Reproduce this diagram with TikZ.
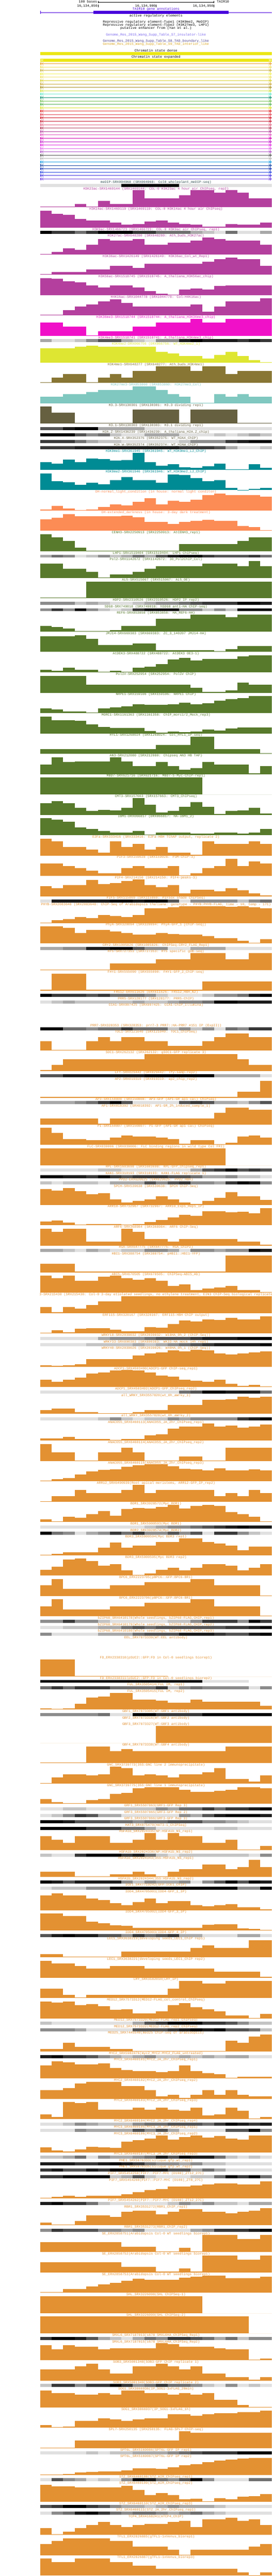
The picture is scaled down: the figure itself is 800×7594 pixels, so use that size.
\documentclass[tikz,border=0pt]{standalone}
\usepackage{fontspec}
\newfontfamily\ucsc{Liberation Mono}
\definecolor{cmag}{RGB}{180,63,158}
\definecolor{cmagb}{RGB}{240,16,200}
\definecolor{ckfm}{RGB}{210,40,160}
\definecolor{cyel}{RGB}{222,230,50}
\definecolor{colv}{RGB}{136,118,52}
\definecolor{cteal}{RGB}{128,200,192}
\definecolor{cdol}{RGB}{102,96,64}
\definecolor{ccyan}{RGB}{0,139,148}
\definecolor{csal}{RGB}{252,140,85}
\definecolor{cgrn}{RGB}{88,122,44}
\definecolor{corg}{RGB}{227,145,50}
\definecolor{cmed}{RGB}{47,79,79}
\definecolor{cgene}{RGB}{72,0,220}
\definecolor{cstate}{RGB}{235,230,20}
\definecolor{cs7}{RGB}{123,104,238}
\definecolor{cs8}{RGB}{72,61,139}
\definecolor{cs9}{RGB}{218,165,32}
\definecolor{g0}{RGB}{255,255,255}
\definecolor{g1}{RGB}{224,224,224}
\definecolor{g2}{RGB}{196,196,196}
\definecolor{g3}{RGB}{168,168,168}
\definecolor{g4}{RGB}{140,140,140}
\definecolor{g5}{RGB}{112,112,112}
\definecolor{g6}{RGB}{84,84,84}
\definecolor{g7}{RGB}{56,56,56}
\definecolor{g8}{RGB}{28,28,28}
\definecolor{g9}{RGB}{0,0,0}
\newcounter{trk}
\def\cy{537}
\newcommand\nexty[1]{\pgfmathtruncatemacro\tmpy{\cy+#1}\xdef\cy{\tmpy}}
\newcommand\ttl[2]{\stepcounter{trk}\edef\tnm{trk\arabic{trk}}\node[ttlsty,text=#1] (\tnm) at (459,\cy+3) {#2};}
\newcommand\wig[3]{%
  \ttl{#1}{#2}%
  \foreach \hv [count=\i from 0] in {#3} {%
    \pgfmathtruncatemacro\xa{118+\i*34.1+0.5}%
    \pgfmathtruncatemacro\xb{118+(\i+1)*34.1+0.5}%
    \pgfmathsetmacro\hh{min(\hv,50)}%
    \fill[#1] (\xa,\cy+55-\hh) rectangle (\xb,\cy+55);%
  }%
  \nexty{60}}
\newcommand\ewig[2]{\ttl{#1}{#2}\nexty{60}}
\newcommand\dns[3]{%
  \ttl{#1}{#2}%
  \foreach \lv [count=\i from 0] in {#3} {%
    \pgfmathtruncatemacro\xa{118+\i*34.1+0.5}%
    \pgfmathtruncatemacro\xb{118+(\i+1)*34.1+0.5}%
    \fill[g\lv] (\xa,\cy+5) rectangle (\xb,\cy+14);%
  }%
  \nexty{19}}
\newcommand\edns[2]{\ttl{#1}{#2}\nexty{19}}
\newcommand\expline[2]{%
  \draw[#2, line width=1pt] (118,#1) -- (800,#1);
  \draw[#2, line width=0.9pt] (118.5,#1-4) -- (118.5,#1+4);
  \draw[#2, line width=0.8pt] (123,#1-4) -- (119.5,#1) -- (123,#1+4);
  \draw[#2, line width=0.8pt] (127.5,#1-4) -- (124,#1) -- (127.5,#1+4);
  \draw[#2, line width=0.8pt] (790.5,#1-4) -- (794,#1) -- (790.5,#1+4);
  \draw[#2, line width=0.8pt] (795,#1-4) -- (798.5,#1) -- (795,#1+4) -- cycle;
}
\begin{document}
\begin{tikzpicture}[x=1pt,y=-1pt,
  ttlsty/.style={font=\ucsc\fontsize{10}{10}\selectfont, inner sep=0pt, anchor=base},
  hdr/.style={font=\ucsc\fontsize{10}{10}\selectfont, inner sep=0pt, text=black}]
\useasboundingbox (0,0) rectangle (800,7594);
\fill[white] (0,0) rectangle (800,7594);
% ---- scale and position ----
\node[hdr, anchor=base east] (scl) at (286,9) {100 bases};
\draw[line width=1pt] (289,6) -- (630,6);
\draw[line width=1pt] (289.5,2.5) -- (289.5,9.5);
\draw[line width=1pt] (629.5,2.5) -- (629.5,9.5);
\node[hdr, anchor=base west] (asm) at (638,9) {TAIR10};
\node[hdr, anchor=base east] (p1) at (287,21) {16,134,850};
\node[hdr, anchor=base east] (p2) at (458,21) {16,134,900};
\node[hdr, anchor=base east] (p3) at (628,21) {16,134,950};
\draw[line width=1pt] (289.5,13) -- (289.5,22);
\draw[line width=1pt] (459.5,13) -- (459.5,22);
\draw[line width=1pt] (629.5,13) -- (629.5,22);
\begin{scope}
\clip (118,0) rectangle (800,7594);
% ---- gene ----
\node[ttlsty, text=cgene] (gtitle) at (459,30) {TAIR10 gene annotations};
\draw[cgene, line width=1pt] (118,36.5) -- (800,36.5);
\draw[cgene, line width=1pt] (118.5,32) -- (118.5,41);
\fill[cgene] (275,32) rectangle (673,41);
\node[ttlsty] (are) at (459,49) {active regulatory elements};
\node[ttlsty] (rr1) at (459,68) {Repressive regulatory element-Type1 (H3K9me2, MeDIP)};
\node[ttlsty] (rr2) at (459,77) {Repressive regulatory element-Type2 (H3K27me3, LHP1)};
\node[ttlsty] (pen) at (459,86) {putative enhancer from (Yan et al.)};
\node[ttlsty, text=cs7] (s7) at (459,105) {Genome\_Res\_2015\_Wang\_Supp\_Table\_S7\_insulator-like};
\node[ttlsty, text=cs8] (s8) at (459,124) {Genome\_Res\_2015\_Wang\_Supp\_Table\_S8\_TAD\_boundary\_like};
\node[ttlsty, text=cs9] (s9) at (459,133) {Genome\_Res\_2015\_Wang\_Supp\_Table\_S9\_TAD\_interior\_like};
\node[ttlsty] (csd) at (459,152) {Chromatin state dense};
\fill[cstate] (118,154) rectangle (800,163);
\node[ttlsty] (cse) at (459,171) {Chromatin state expanded};
\fill[cstate] (118,173) rectangle (800,182);
\draw[white, line width=0.8pt] (123,174.5) -- (120,177.5) -- (123,180.5);
\draw[white, line width=0.8pt] (127,174.5) -- (124,177.5) -- (127,180.5);
\draw[white, line width=0.8pt] (791,174.5) -- (794,177.5) -- (791,180.5);
\draw[white, line width=0.8pt] (795,174.5) -- (798,177.5) -- (795,180.5);
\foreach \r/\g/\b [count=\k from 0] in {232/160/48, 240/224/96, 200/176/64, 240/240/80, 240/224/96, 216/208/48, 200/168/56, 168/144/32, 208/224/64, 96/232/200, 16/144/112, 112/192/80, 80/176/80, 216/224/32, 224/32/32, 224/64/80, 208/16/32, 200/24/48, 224/96/128, 176/48/80, 176/56/152, 224/80/192, 208/0/176, 192/16/200, 224/32/224, 224/96/232, 176/80/200, 80/80/80, 176/176/176, 16/152/224, 16/64/160, 16/48/176, 32/64/224, 64/48/224, 112/64/224} {
  \definecolor{lc}{RGB}{\r,\g,\b}
  \expline{187.5+10*\k}{lc}
}
% ---- tracks ----
\dns{cmed}{meDIP-SRX004968 (SRX004968: Col0\_wholeplant\_meDIP-seq)}{1,1,1,1,1,1,1,9,9,9,9,9,1,1,1,1,1,1,1,1}
\wig{cmag}{H3K23ac-SRX1469144 (SRX1469144: COL-0 H3K23ac 4 hour air ChIPseq, rep2)}{2,2,2,10,2,18,10,10,50,27,27,27,35,50,50,43,50,43,27,27}
\wig{cmag}{H3K14ac-SRX1469119 (SRX1469119: COL-0 H3K14ac 4 hour air ChIPseq)}{50,40,38,25,21,21,15,9,11,18,21,15,11,9,2,2,11,9,9,15}
\dns{cmag}{H3K9ac-SRX1466723 (SRX1466723: COL-0 H3K9ac air ChIPseq, rep1)}{9,7,7,5,7,9,9,9,7,7,5,5,5,3,2,1,5,1,1,3}
\wig{cmag}{H3K27ac-SRX648280 (SRX648280: Ath\_buds\_H3K27ac)}{2,7,18,13,29,46,40,40,46,29,29,35,35,40,50,46,40,40,40,29}
\wig{cmag}{H3K36ac-SRX1426149 (SRX1426149: H3K36ac\_Col\_wt\_Rep1)}{2,8,8,8,15,15,27,27,20,33,33,33,33,33,39,46,50,46,46,27}
\wig{cmag}{H3K56ac-SRX1518745 (SRX1518745: A\_thaliana\_H3K56ac\_chip)}{50,48,41,37,29,23,29,29,23,12,5,2,16,19,16,27,29,29,29,29}
\wig{cmag}{H4K16ac-SRX1044778 (SRX1044778: Col-H4K16ac)}{2,2,16,27,32,42,47,37,27,27,27,27,27,32,11,27,42,42,42,50}
\wig{cmagb}{H3K36me3-SRX1518744 (SRX1518744: A\_thaliana\_H3K36me3\_chip)}{39,39,27,27,2,14,14,14,27,27,39,39,39,50,39,39,50,50,50,50}
\dns{ckfm}{H3K4me3-SRX1518741 (SRX1518741: A\_thaliana\_H3K4me3\_chip)}{3,1,1,2,4,6,6,3,2,1,4,4,8,9,8,8,8,7,8,7}
\wig{cyel}{H3K4me2-DRX066756 (DRX066756: WT\_H3K4me2\_1)}{43,43,43,47,50,47,47,47,47,47,32,27,19,19,12,22,32,19,8,1}
\wig{colv}{H3K4me1-SRX648277 (SRX648277: Ath\_buds\_H3K4me1)}{2,15,27,27,2,15,27,15,36,36,49,49,49,36,49,49,27,36,36,36}
\wig{cteal}{H3K27me3-SRX853860 (SRX853860: H3K27me3\_Col)}{19,19,27,27,33,39,39,39,50,50,39,27,19,2,2,27,19,27,19,19}
\wig{cdol}{H3.3-SRX130301 (SRX130301: H3.3 dividing rep1)}{50,32,32,2,2,2,2,2,42,42,42,42,2,42,42,42,42,2,2,2}
\dns{cdol}{H3.1-SRX130303 (SRX130303: H3.1 dividing rep1)}{6,6,8,9,9,3,3,3,3,1,1,1,1,1,1,1,1,1,1,1}
\dns{cdol}{H2A.Z-SRX1436239 (SRX1436239: A\_thaliana\_H2A.Z\_chip)}{9,9,9,6,4,5,2,1,1,3,3,3,1,1,1,2,1,2,3,2}
\dns{cdol}{H2A.X-SRX352375 (SRX352375: WT\_H2AX\_ChIP)}{7,7,7,5,3,2,2,1,1,1,1,1,2,4,4,4,7,8,9,9}
\dns{cdol}{H2A.W-SRX352374 (SRX352374: WT\_H2AW\_ChIP)}{7,7,7,8,8,8,8,8,8,8,8,8,7,7,7,6,3,1,1,2}
\wig{ccyan}{H3K9me1-SRX361945 (SRX361945: WT\_H3K9me1\_LJ\_ChIP)}{22,18,30,23,34,32,27,29,50,23,12,16,7,6,10,18,1,1,16,6}
\wig{ccyan}{H3K9me2-SRX361946 (SRX361946: WT\_H3K9me2\_LJ\_ChIP)}{50,26,24,16,22,18,30,38,29,29,22,46,44,35,26,30,6,1,4,6}
\wig{csal}{DH-normal\_light\_condition (in house: normal light conditon)}{3,13,6,2,3,10,18,15,26,36,18,29,26,32,46,50,46,46,46,41}
\wig{csal}{DH-extended\_darkness (in house: 3-day dark treatment)}{34,38,50,43,43,43,43,44,40,27,27,21,27,30,32,30,29,15,12,2}
\wig{cgrn}{CENH3-SRX2250913 (SRX2250913: AtCENH3\_rep1)}{50,41,30,10,1,1,1,1,1,1,1,1,21,21,21,21,21,30,41,41}
\dns{cgrn}{LHP1-SRX1519404 (SRX1519404: LHP1 ChIPseq)}{3,5,4,1,2,4,2,3,5,3,6,8,9,9,7,6,6,6,7,5}
\wig{cgrn}{Pol2-SRX1142672 (SRX1142672: 30\_Pol2ChIP\_Col)}{42,42,27,27,18,2,10,10,18,27,35,35,35,35,42,42,42,35,50,35}
\wig{cgrn}{AL5-SRX515067 (SRX515067: AL5\_OE)}{2,2,2,2,50,50,50,50,50,50,50,50,50,50,50,50,50,50,50,50}
\dns{cgrn}{HDP2-SRX2310526 (SRX2310526: HDP2 IP rep2)}{4,4,4,2,3,2,1,1,2,3,4,4,5,6,7,7,7,9,9,8}
\dns{cgrn}{SDG8-SRX749018 (SRX749018: hSDG8 anti-HA ChIP-seq)}{4,7,4,9,4,2,1,2,7,9,9,9,4,4,2,4,2,9,9,9}
\wig{cgrn}{REF6-SRX853858 (SRX853858: HA\_REF6-HA)}{17,13,9,1,1,1,5,17,17,17,38,38,38,50,50,50,43,50,50,50}
\wig{cgrn}{JMJ14-SRX669383 (SRX669383: ZC\_3\_140207 JMJ14-HA)}{46,46,46,50,38,21,21,21,25,25,5,5,5,5,5,2,9,17,17,17}
\wig{cgrn}{AtDEK3-SRX488722 (SRX488722: AtDEK3 OE3-1)}{8,5,13,8,8,2,4,2,14,16,24,38,43,35,40,39,40,47,50,50}
\wig{cgrn}{PolIV-SRX252954 (SRX252954: PolIV ChIP)}{50,50,50,50,23,23,23,23,23,23,23,23,23,15,2,2,7,29,23,23}
\wig{cgrn}{NRPE1-SRX159106 (SRX159106: NRPE1 ChIP)}{13,11,4,4,2,13,17,19,26,25,24,26,30,26,29,36,41,44,50,50}
\wig{cgrn}{MORC1-SRX1161363 (SRX1161358: ChIP\_morc1/2\_Mock\_rep3)}{50,39,39,37,26,19,16,16,16,7,2,6,4,6,12,9,14,18,18,18}
\wig{cgrn}{HYL1-SRX1268024 (SRX1268024: Col\_HYL1\_IP\_seq)}{14,14,14,14,14,14,14,14,14,14,26,26,26,50,50,14,14,14,14,2}
\wig{cgrn}{AN3-SRX212080 (SRX212080: Chipseq AN3 HB TAP)}{28,50,35,38,38,38,50,38,24,24,35,24,13,17,35,28,28,28,2,24}
\wig{cgrn}{MBD7-SRX621716 (SRX621716: MBD7-5-Myc-ChIP-rep1)}{50,50,50,50,50,50,50,50,50,50,50,50,50,50,0,0,0,0,0,0}
\wig{cgrn}{CMT3-SRX157663 (SRX157663: CMT3\_ChIPseq)}{34,41,34,20,11,15,13,21,50,29,7,11,24,38,24,2,11,13,21,4}
\wig{cgrn}{IBM1-DRX066817 (DRX066817: HA-IBM1\_2)}{50,45,39,23,19,12,8,7,12,2,7,8,7,4,5,7,8,5,8,18}
\wig{corg}{E2Fa-SRX333416 (SRX333416: E2Fa-HBH TChAP output, replicate 2)}{50,42,25,25,17,9,42,25,34,17,25,9,9,2,42,34,34,34,42,34}
\wig{corg}{PIF3-SRX159028 (SRX159028: P3M-ChIP-3)}{36,36,29,23,15,8,8,23,29,23,23,29,2,8,23,29,50,29,43,36}
\wig{corg}{PIF4-SRX214150 (SRX214150: PIF4-peaks-3)}{29,24,32,32,48,36,39,45,50,32,27,32,8,19,19,14,24,17,8,2}
\dns{corg}{PIF5-SRX115869 (SRX115869: PIF5ox shade ChIPSeq)}{1,8,8,8,8,8,9,9,8,9,9,6,1,4,4,4,4,2,4,5}
\wig{corg}{PHYB-SRX2083648 (SRX2083648: ChIP-Seq of Arabidopsis thaliana: genotype - PHYB:PHYB-FLAG, time - 10, temp - 17C)}{1,9,11,17,14,23,21,18,23,43,43,47,49,49,49,49,48,49,47,43}
\wig{corg}{PhyA-SRX320094 (SRX320094: PhyA-GFP\_1 [ChIP-seq])}{50,50,46,30,40,40,35,31,26,26,31,28,26,26,21,16,16,7,2,12}
\dns{corg}{CRY2-SRX1005826 (SRX1005826: ChIPSeq-CRY2\_FLAG\_Rep1)}{3,3,4,4,8,8,9,9,6,4,4,1,1,3,3,3,1,1,1,1}
\wig{corg}{HY5-SRX727353 (SRX727353: HY5 specific gDB-seq)}{2,2,2,2,2,2,20,20,20,20,32,32,32,50,50,50,32,32,50,50}
\wig{corg}{FHY1-SRX555090 (SRX555090: FHY1-GFP\_2\_ChIP-seq)}{2,50,50,50,2,2,2,2,2,2,2,2,2,2,26,26,26,26,26,26}
\dns{corg}{FRS12-ERX611626 (ERX611626: FRS12\_HBH\_N2)}{9,7,7,7,6,7,5,5,5,4,2,1,1,1,2,4,4,5,8,9}
\dns{corg}{PRR5-SRX128177 (SRX128177: PRR5-ChIP)}{1,2,3,2,2,2,2,2,3,2,2,3,4,4,5,9,9,8,8,8}
\ewig{corg}{CCA1-SRX997425 (SRX997425: CCA1-ChIP\_Illumina)}
\dns{corg}{PRR7-SRX328353 (SRX328353: prr7-3 PRR7::HA-PRR7 \#151 IP (ExpII))}{9,9,5,5,4,5,5,7,5,5,5,2,4,2,4,1,5,4,7,7}
\wig{corg}{TOC1-SRX121040 (SRX121040: TOC1\_ChIPSeq)}{27,2,2,2,27,39,27,39,39,27,27,14,14,14,27,39,50,50,39,39}
\wig{corg}{SOC1-SRX262132 (SRX262132: gSOC1-GFP replicate 3)}{2,18,35,35,35,35,35,35,35,50,50,50,50,50,50,50,50,35,18,18}
\dns{corg}{LFY-SRX029442 (SRX029442: lfy-samp-rep2)}{6,6,8,8,8,8,8,8,8,9,9,9,9,9,9,3,3,3,3,1}
\wig{corg}{AP2-SRX019319 (SRX019319: ap2\_chip\_rep2)}{2,2,2,2,2,2,2,2,2,2,2,2,2,2,2,2,2,17,17,50}
\dns{corg}{AP3-SRX150808 (SRX150808: AP3-GFP (AP1-GR ap1 cal) ChIPseq)}{3,3,3,4,5,7,9,6,1,1,1,1,6,7,6,3,3,2,4,6}
\wig{corg}{AP1-SRX018392 (SRX018392: AP1-GR\_2h\_induced\_sample\_1)}{18,18,18,18,18,2,18,18,18,18,18,18,18,18,18,35,50,50,43,43}
\wig{corg}{PI-SRX150807 (SRX150807: PI-GFP (AP1-GR ap1 cal) ChIPseq)}{50,35,17,17,14,14,21,27,24,24,21,17,4,14,14,2,7,24,27,21}
\wig{corg}{FLC-SRX039006 (SRX039006: FLC binding regions in wild type Col FRI)}{50,50,50,50,50,50,50,50,50,50,50,50,50,50,50,50,0,0,0,0}
\dns{corg}{RPL-SRX1603698 (SRX1603698: RPL-GFP\_chipseq\_rep1)}{1,1,1,1,1,2,2,1,1,1,1,1,1,3,6,7,9,6,7,6}
\dns{corg}{KAN1-SRX310193 (SRX310193: KAN1-FLAG replicate 1)}{9,9,8,8,7,9,7,6,7,7,7,6,6,5,3,3,4,2,2,1}
\dns{corg}{PPD2-ERX620625 (ERX620625: PPD2\_HBH)}{2,1,2,2,2,1,3,3,3,6,4,6,7,4,4,3,7,9,8,4}
\wig{corg}{SPCH-SRX539638 (SRX539638: SPCH ChIP-Seq)}{46,42,50,41,32,34,17,7,12,17,26,17,7,2,12,21,38,26,26,15}
\wig{corg}{ARR10-SRX732967 (SRX732967: ARR10\_Exp1\_Rep1\_IP)}{11,14,8,2,4,4,4,2,4,9,16,23,30,27,42,42,38,40,35,50}
\wig{corg}{ARF6-SRX368984 (SRX368984: ARF6 ChIP-Seq)}{50,40,50,50,12,12,12,50,40,20,20,12,20,20,20,20,20,12,12,2}
\dns{corg}{RGA-SRX647775 (SRX647775: RGA\_ChIP2)}{3,3,2,1,3,2,1,2,2,4,4,3,1,4,4,3,4,4,9,8}
\wig{corg}{HBI1-SRX388754 (SRX388754: pHBI1::HBI1-YFP)}{26,26,26,2,2,2,2,2,2,2,2,2,2,2,2,2,50,50,50,50}
\wig{corg}{ABI5-SRX670505 (SRX670505: ChIPSeq-ABI5\_Ab)}{50,43,50,35,35,47,50,43,39,43,35,20,24,8,12,16,20,8,8,2}
\wig{corg}{EIN3-SRX215430 (SRX215430: Col-0 3-day etiolated seedlings, no ethylene treatment, EIN3 ChIP-Seq biological replicate 1)}{18,2,18,13,24,35,35,50,50,50,50,50,50,50,50,50,50,50,50,50}
\wig{corg}{ERF115-SRX320167 (SRX320167: ERF115-HBH ChIP output)}{2,9,3,14,16,16,11,7,7,19,17,28,38,36,42,40,46,42,42,50}
\dns{corg}{WRKY18-SRX2039032 (SRX2039032: W18HA\_0h\_2 (ChIP-Seq))}{1,1,1,1,1,3,4,4,4,5,6,6,6,7,8,8,8,9,9,9}
\dns{corg}{WRKY33-SRX890383 (SRX890383: WK33-HA mock 14h rep1)}{1,1,1,1,2,2,2,2,3,2,3,4,5,6,7,8,8,8,8,9}
\wig{corg}{WRKY40-SRX2039026 (SRX2039026: W40HA\_0h\_1 (ChIP-Seq))}{4,2,4,8,23,23,23,23,33,39,42,48,45,50,48,39,36,39,42,45}
\wig{corg}{ADCP1-SRX4503490(ADCP1-GFP ChIP-seq\_rep1)}{21,16,21,28,40,43,49,50,49,43,34,31,21,19,16,21,9,4,7,2}
\dns{corg}{ADCP1\_SRX4503492(ADCP1-GFP\_ChIPseq\_rep2)}{1,1,1,1,1,1,1,1,1,1,1,1,5,6,9,9,8,8,8,5}
\wig{corg}{all\_WRKY\_SRX3557820(wt\_0h\_aWrky\_1)}{11,16,16,5,5,2,2,2,5,11,11,26,26,26,41,41,43,50,48,50}
\dns{corg}{all\_WRKY\_SRX3557828(wt\_0h\_aWrky\_2)}{1,1,1,1,1,2,4,2,1,2,2,4,3,4,4,4,4,7,8,9}
\wig{corg}{ANAC055\_SRX6460113(ANAC055\_JA\_2hr\_ChIPseq\_rep1)}{7,7,11,5,5,5,2,5,5,15,18,35,41,41,50,41,45,38,41,48}
\wig{corg}{ANAC055\_SRX6460114(ANAC055\_JA\_2hr\_ChIPseq\_rep2)}{50,26,26,2,2,26,26,39,26,2,2,2,13,13,2,2,39,39,39,39}
\wig{corg}{ANAC055\_SRX6460115(ANAC055\_JA\_2hr\_ChIPseq\_rep3)}{2,7,10,21,29,34,36,43,48,50,50,44,37,36,32,39,33,33,36,32}
\wig{corg}{ARR12\_SRX6490939(Root apical meristems, ARR12-GFP\_IP\_rep2)}{2,17,17,34,26,26,26,34,50,26,34,34,34,34,34,17,26,17,34,26}
\wig{corg}{BDR1\_SRX3928572(Myc\_BDR1)}{8,2,16,12,23,32,19,39,42,40,44,50,40,48,50,48,29,24,16,2}
\dns{corg}{BDR1\_SRX5900593(Myc BDR1)}{1,1,1,1,1,1,1,1,1,2,3,4,4,5,6,7,8,9,8,8}
\dns{corg}{BDR2\_SRX3928574(Myc\_BDR2)}{9,5,4,1,3,4,7,5,7,4,4,6,4,6,1,7,7,4,2,1}
\wig{corg}{BDR3\_SRX5900594(Myc BDR3 rep1)}{2,5,9,9,9,23,38,23,29,29,40,40,50,50,40,34,29,15,26,26}
\wig{corg}{BDR3\_SRX5900595(Myc BDR3 rep2)}{18,26,48,50,43,29,34,16,2,7,18,23,16,23,34,34,29,16,23,34}
\wig{corg}{BPC6\_ERX2223705(pBPC6::GFP:BPC6-BR1)}{31,50,21,21,21,21,31,31,31,41,41,41,41,50,50,31,31,31,31,2}
\wig{corg}{BPC6\_ERX2223706(pBPC6::GFP:BPC6-BR1)}{30,50,21,21,21,21,30,30,30,40,40,40,40,50,50,30,30,30,30,2}
\dns{corg}{bZIP68\_SRX6410178(Whole seedlings, bZIP68-FLAG,CHIP,rep1)}{4,4,7,4,4,2,1,1,1,1,1,2,2,4,7,7,7,4,9,7}
\dns{corg}{bZIP68\_SRX6410179(Whole seedlings, bZIP68-FLAG,CHIP,rep2)}{1,1,2,2,2,3,3,5,6,5,6,6,6,6,6,6,7,7,8,9}
\dns{corg}{bZIP68\_SRX6410180(Whole seedlings, bZIP68-FLAG,CHIP,rep3)}{4,1,1,1,1,3,3,3,5,6,6,6,8,8,8,7,6,6,8,9}
\ewig{corg}{EEL\_SRX7873339(WT:EEL antibody)}
\wig{corg}{FD\_ERX2338310(pSUC2::GFP:FD in Col-0 seedlings biorep1)}{50,50,50,2,2,2,2,2,2,2,2,0,0,0,0,0,0,0,0,0}
\dns{corg}{FD\_ERX2338311(pSUC2::GFP:FD in Col-0 seedlings biorep2)}{9,9,9,9,9,9,9,9,9,9,9,9,9,9,1,1,1,1,0,0}
\dns{corg}{FUL\_SRX3505414(FUL IM, rep1)}{5,7,5,7,7,7,5,5,5,5,7,2,4,5,4,4,4,4,1,4}
\wig{corg}{FUL\_SRX3505415(FUL IM, rep2)}{4,2,4,17,36,38,50,50,29,29,26,20,20,29,24,24,24,24,24,12}
\dns{corg}{GBF1\_SRX7873305(WT:GBF1 antibody)}{4,4,4,4,4,5,1,1,9,9,7,7,7,7,9,9,9,9,9,9}
\edns{corg}{GBF2\_SRX7873316(WT:GBF2 antibody)}
\wig{corg}{GBF3\_SRX7873327(WT:GBF3 antibody)}{0,0,0,0,0,0,0,0,0,0,50,50,50,50,50,50,50,50,50,50}
\wig{corg}{GBF4\_SRX7873338(WT:GBF4 antibody)}{2,2,2,2,50,50,35,42,35,35,35,35,35,35,35,35,50,50,50,50}
\wig{corg}{GNC\_SRX3739773(35S:GNC line 2 immunoprecipitate)}{2,18,28,28,24,28,50,46,24,28,24,18,28,28,34,46,13,13,6,24}
\wig{corg}{GNC\_SRX3739775(35S:GNC line 1 immunoprecipitate)}{15,6,2,3,12,15,30,32,47,50,50,50,41,35,35,38,41,49,50,47}
\dns{corg}{GRF1\_SRX5507863(GRF1-GFP Rep 3)}{1,1,2,2,1,1,2,2,2,2,4,3,5,5,7,5,7,7,8,9}
\dns{corg}{GRF3\_SRX5507865(GRF3-GFP Rep 2)}{1,2,4,7,6,3,3,1,1,1,1,1,4,3,6,8,9,9,9,8}
\dns{corg}{GRF3\_SRX5507866(GRF3-GFP Rep 3)}{9,9,8,6,6,6,5,5,4,5,5,6,6,6,4,4,3,2,1,1}
\dns{corg}{HAT3\_SRX875470(HAT3-1\_ChIPSeq)}{9,9,9,9,7,7,7,5,5,3,1,1,1,1,1,2,2,1,1,1}
\wig{corg}{HSFA1b\_SRX2024335(NP:HSFA1b\_NS\_rep1)}{41,30,21,41,41,41,21,21,30,50,30,50,41,41,21,21,30,2,2,12}
\dns{corg}{HSFA1b\_SRX2024336(NP:HSFA1b\_NS\_rep2)}{2,1,1,7,9,9,9,7,8,5,2,1,2,2,2,2,2,2,1,4}
\wig{corg}{HSFA1b\_SRX2024343(35S:HSFA1b\_NS\_rep1)}{15,15,15,2,2,2,8,8,15,8,2,15,23,23,37,37,23,29,50,29}
\dns{corg}{HSFA1b\_SRX2024344(35S:HSFA1b\_NS\_rep2)}{9,8,6,8,8,8,8,4,2,4,3,3,4,1,4,6,9,6,9,8}
\dns{corg}{ICE1\_SRX7719242(GFP-ICE1\_ChIP)}{1,2,2,2,4,4,9,9,9,9,9,9,9,9,9,9,9,4,4,9}
\wig{corg}{IDD4\_SRX4705001(IDD4-GFP\_1\_IP)}{44,50,44,44,35,30,21,15,24,35,20,26,26,15,11,14,17,8,8,2}
\wig{corg}{IDD4\_SRX4705002(IDD4-GFP\_3\_IP)}{50,50,43,42,26,21,16,14,8,8,8,8,8,8,17,19,19,6,4,2}
\dns{corg}{IDD4\_SRX4705003(IDD4-GFP\_4\_IP)}{6,8,9,8,8,6,6,4,7,5,6,7,3,3,1,1,1,3,3,1}
\wig{corg}{LEC1\_SRX3638219(developing seeds\_LEC1\_ChIP rep1)}{9,9,2,2,2,2,2,17,17,17,17,17,17,27,35,27,27,27,50,50}
\wig{corg}{LEC1\_SRX3638221(developing seeds\_LEC1\_ChIP rep2)}{50,42,42,35,27,27,35,35,35,27,27,27,27,27,27,18,18,18,18,2}
\wig{corg}{LHY\_SRX3182010(LHY\_IP)}{27,27,10,2,10,10,10,10,10,10,10,27,50,50,43,43,50,50,50,50}
\wig{corg}{MED12\_SRX7573312(MED12-FLAG\_col\_control\_ChIPseq)}{50,47,50,39,42,36,25,27,15,15,21,39,45,33,27,21,9,9,1,13}
\dns{corg}{MED12\_SRX7573320(MED12-FLAG\_rep1\_ChIPseq)}{2,1,1,1,1,1,1,1,3,6,7,9,9,9,7,7,6,4,2,2}
\dns{corg}{MED12\_SRX7573322(MED12-FLAG\_rep2\_ChIPseq)}{4,4,4,3,1,1,1,1,6,6,6,7,8,9,8,9,6,6,5,2}
\wig{corg}{MED25\_SRX7445540(med25 ChIP-seq of arabidopsis)}{8,8,26,14,14,14,8,8,2,2,2,2,2,2,2,2,32,26,45,50}
\dns{corg}{MYC2\_SRX5982476(myc2\_MYC2:MYC2\_FLAG\_untreated)}{8,9,7,7,6,4,3,2,3,4,2,2,3,2,3,2,3,3,1,1}
\wig{corg}{MYC2\_SRX6460101(MYC2\_JA\_2hr\_ChIPseq\_rep1)}{38,50,48,41,41,44,31,25,21,21,18,21,38,21,15,12,2,5,5,5}
\wig{corg}{MYC2\_SRX6460102(MYC2\_JA\_2hr\_ChIPseq\_rep2)}{26,26,32,45,50,50,50,37,37,26,7,12,2,12,26,12,26,12,7,7}
\wig{corg}{MYC2\_SRX6460103(MYC2\_JA\_2hr\_ChIPseq\_rep3)}{14,6,50,48,50,27,27,27,34,27,34,27,25,34,11,14,34,25,2,6}
\dns{corg}{MYC2\_SRX6460104(MYC2\_JA\_2hr\_ChIPseq\_rep4)}{1,1,2,4,3,2,2,2,4,5,5,6,6,6,5,7,9,8,7,8}
\dns{corg}{MYC3\_SRX6460105(MYC3\_JA\_2hr\_ChIPseq\_rep1)}{1,1,1,4,3,3,3,3,6,4,6,3,1,1,1,1,6,6,9,4}
\wig{corg}{MYC3\_SRX6460106(MYC3\_JA\_2hr\_ChIPseq\_rep2)}{15,6,2,8,17,15,13,31,36,41,50,38,45,50,43,48,41,38,50,50}
\dns{corg}{MYC3\_SRX6460107(MYC3\_JA\_2hr\_ChIPseq\_rep3)}{2,2,3,5,1,4,3,3,4,5,8,6,9,8,8,5,2,1,2,1}
\dns{corg}{PHE1\_SRX5676333(silique.gfp.wt\_rep1)}{8,8,8,7,7,8,9,8,7,5,4,4,3,4,2,2,1,1,1,1}
\dns{corg}{PHE1\_SRX5676335(silique.gfp.wt\_rep2)}{7,8,6,6,8,7,9,9,9,8,8,6,6,3,5,3,1,1,1,1}
\dns{corg}{PIF7\_SRX5454258(PIF7::PIF7-MYC (D108)\_ZT12\_27C)}{7,7,9,9,9,9,2,3,6,2,1,1,1,2,2,5,9,7,9,5}
\wig{corg}{PIF7\_SRX5454260(PIF7::PIF7-MYC (D108)\_ZT8\_27C)}{2,5,8,5,8,8,8,12,18,25,28,35,35,38,42,45,45,42,42,50}
\dns{corg}{PIF7\_SRX5454262(PIF7::PIF7-MYC (D108)\_ZT12\_27C)}{8,9,7,7,5,2,1,1,1,1,1,2,4,3,4,2,2,1,3,3}
\wig{corg}{RBR1\_SRX3531272(RBR1\_ChIP\_rep1)}{8,2,2,13,29,29,25,40,43,43,32,40,48,48,40,40,36,40,43,50}
\dns{corg}{RBR1\_SRX3531273(RBR1\_ChIP\_rep2)}{4,7,6,6,6,4,4,3,4,1,1,1,1,3,4,7,7,7,8,9}
\wig{corg}{SE\_ERX2858751(Arabidopsis Col-0 WT seedlings biorep1)}{30,30,30,30,30,30,30,16,16,16,2,2,12,2,50,50,50,38,38,50}
\wig{corg}{SE\_ERX2858752(Arabidopsis Col-0 WT seedlings biorep1)}{30,30,30,30,30,30,30,16,16,16,2,2,12,2,50,50,50,38,38,50}
\wig{corg}{SE\_ERX2858753(Arabidopsis Col-0 WT seedlings biorep1)}{2,2,11,11,19,25,29,35,41,38,39,39,45,47,50,50,43,43,43,48}
\wig{corg}{SHL\_SRX3226098(SHL ChIPSeq-1)}{50,50,50,50,50,50,50,50,50,50,50,50,50,50,0,0,0,0,0,0}
\wig{corg}{SHL\_SRX3226099(SHL ChIPSeq-2)}{50,50,50,50,50,50,50,50,50,50,50,50,50,50,50,50,50,50,0,0}
\dns{corg}{SMXL6\_SRX7187013(s678 SMXL6HA\_ChIPSeq\_Rep1)}{7,9,9,8,6,3,2,1,3,5,4,7,7,6,5,3,5,2,4,4}
\wig{corg}{SMXL6\_SRX7187015(s678 SMXL6HA\_ChIPSeq\_Rep2)}{44,32,44,40,40,32,36,36,36,36,50,48,40,40,40,36,32,32,2,5}
\wig{corg}{SOB3\_SRX5001348(SOB3-GFP ChIP replicate 1)}{33,33,33,42,50,33,21,21,42,42,50,42,33,42,21,21,11,11,2,11}
\dns{corg}{SOB3\_SRX5001349(SOB3-GFP ChIP replicate 2)}{2,7,7,4,7,7,9,7,4,5,7,5,5,4,2,1,4,1,2,1}
\wig{corg}{SOG1\_SRX3866936(IP\_SOG1-3xFLAG\_20min)}{50,43,43,37,37,43,37,50,50,43,43,37,43,37,43,22,22,8,2,2}
\wig{corg}{SOG1\_SRX3866937(IP\_SOG1-3xFLAG\_1h)}{8,2,4,20,20,28,25,20,25,28,28,40,40,35,40,43,43,46,46,50}
\wig{corg}{SPL7-SRX250135 (SRX250135: FLAG-SPL7 ChIP-seq)}{2,2,2,23,23,23,23,23,23,23,23,23,50,45,45,45,45,45,45,45}
\dns{corg}{SPT6L\_SRX5169086(SPT6L-GFP IP rep1)}{1,1,1,1,2,1,2,2,3,3,3,4,5,6,7,7,7,9,9,9}
\wig{corg}{SPT6L\_SRX5169087(SPT6L-GFP IP rep2)}{2,2,3,7,9,10,11,13,19,20,18,23,29,32,37,42,45,48,50,50}
\dns{corg}{STZ\_SRX6460108(STZ\_AIR\_ChIPseq\_rep1)}{1,6,4,3,1,2,1,4,9,8,5,4,6,9,4,1,1,1,5,5}
\wig{corg}{STZ\_SRX6460109(STZ\_AIR\_ChIPseq\_rep2)}{50,45,45,43,43,42,43,47,35,20,25,20,8,9,2,11,8,15,17,22}
\dns{corg}{STZ\_SRX6460110(STZ\_AIR\_ChIPseq\_rep3)}{6,7,9,9,7,6,4,3,3,2,3,4,3,3,3,2,1,1,1,1}
\dns{corg}{STZ\_SRX6460111(STZ\_JA\_2hr\_ChIPseq\_rep1)}{1,4,5,8,9,7,5,4,5,5,4,3,4,5,3,2,1,1,1,1}
\wig{corg}{TCP4\_SRX4168241(mTCP4\_ChIP)}{20,2,9,20,29,38,29,24,29,33,33,38,42,24,46,46,50,42,46,29}
\wig{corg}{TFL1\_ERX2826885(gTFL1-1xVenus\_biorep1)}{34,42,50,50,50,50,42,42,26,26,26,17,2,17,17,17,17,17,26,34}
\wig{corg}{TFL1\_ERX2826887(gTFL1-1xVenus\_biorep3)}{50,40,40,50,50,50,40,40,30,30,20,20,20,20,20,20,20,10,1,10}
\end{scope}
\end{tikzpicture}
\end{document}
